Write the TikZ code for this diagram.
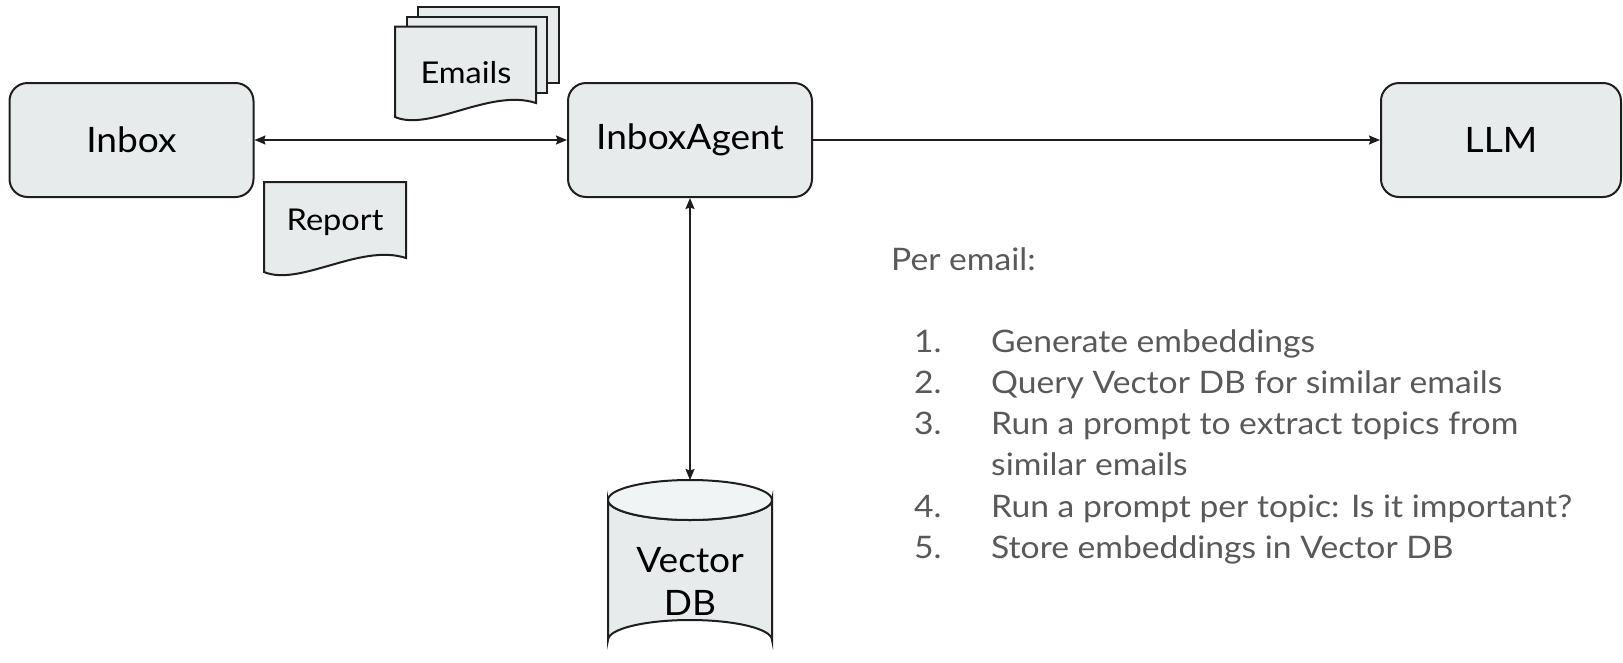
\documentclass[tikz,border=0pt]{standalone}
\usepackage{fontspec}
\setmainfont{Lato}
\newfontfamily\widefont[FakeStretch=1.085]{Lato}
\newfontfamily\boxfont[FakeStretch=1.06]{Lato}
\usetikzlibrary{arrows.meta}
\definecolor{boxfill}{HTML}{E8EBEC}
\definecolor{topfill}{HTML}{F1F4F5}
\definecolor{strokec}{HTML}{1E1E1E}
\definecolor{notegray}{HTML}{595959}
\begin{document}
\begin{tikzpicture}[x=1pt,y=-1pt,
  box/.style={draw=strokec, line width=2pt, fill=boxfill, rounded corners=18pt,
    minimum height=114pt, inner sep=0pt, font=\boxfont\fontsize{35}{42}\selectfont},
  docshape/.style={draw=strokec, line width=2pt, fill=boxfill},
  doctext/.style={font=\widefont\fontsize{30}{36}\selectfont, inner sep=0pt},
  conn/.style={draw=strokec, line width=1.6pt},
  tipend/.style={-{Stealth[length=11pt,width=9pt,inset=1.5pt]}},
  tipboth/.style={{Stealth[length=11pt,width=9pt,inset=1.5pt]}-{Stealth[length=11pt,width=9pt,inset=1.5pt]}},
  note/.style={text=notegray, font=\widefont\fontsize{31}{37}\selectfont, inner sep=0pt, anchor=base west}
]
\useasboundingbox (0,0) rectangle (1623,662);

% main boxes
\node[box, minimum width=244pt] (inbox) at (131.5,140) {Inbox};
\node[box, minimum width=244pt] (agent) at (690,140) {InboxAgent};
\node[box, minimum width=240pt] (llm) at (1501,140) {LLM};

% Emails stack
\draw[docshape] (418,6.7) rectangle (559,83);
\draw[docshape] (407,16.7) rectangle (547,93);
\draw[docshape] (395,26.7) -- (536,26.7) -- (536,103)
  .. controls (490,88) and (430,132) .. (395,117) -- cycle;
\node[doctext] (emails) at (466,73) {Emails};

% Report
\draw[docshape] (264,182) -- (406,182) -- (406,258)
  .. controls (360,243) and (300,287) .. (264,272) -- cycle;
\node[doctext] (report) at (335,222) {Report};

% Vector DB cylinder
\draw[docshape] (608,500) -- (608,640) arc[start angle=180, end angle=360, x radius=82, y radius=20]
  -- (772,500) arc[start angle=0, end angle=180, x radius=82, y radius=20] -- cycle;
\draw[draw=strokec, line width=2pt, fill=topfill] (690,500) ellipse[x radius=82, y radius=20];
\coordinate (vdbtop) at (690,480);
\node[box, draw=none, fill=none, align=center, font=\boxfont\fontsize{35}{43}\selectfont] (vdb) at (690,581) {Vector\\DB};

% connectors
\draw[conn, tipboth] (inbox.east) -- (agent.west);
\draw[conn, tipend] (agent.east) -- (llm.west);
\draw[conn, tipboth] (agent.south) -- (vdbtop);

% notes
\node[note] (pe) at (891,270) {Per email:};
\node[note] (n1) at (914,352) {1.};
\node[note] (t1) at (991,352) {Generate embeddings};
\node[note] (n2) at (914,393.3) {2.};
\node[note] (t2) at (991,393.3) {Query Vector DB for similar emails};
\node[note] (n3) at (914,434.6) {3.};
\node[note] (t3) at (991,434.6) {Run a prompt to extract topics from};
\node[note] (t3b) at (991,475.9) {similar emails};
\node[note] (n4) at (914,517.2) {4.};
\node[note] (t4) at (991,517.2) {Run a prompt per topic: Is it important?};
\node[note] (n5) at (914,558.5) {5.};
\node[note] (t5) at (991,558.5) {Store embeddings in Vector DB};
\end{tikzpicture}
\end{document}
